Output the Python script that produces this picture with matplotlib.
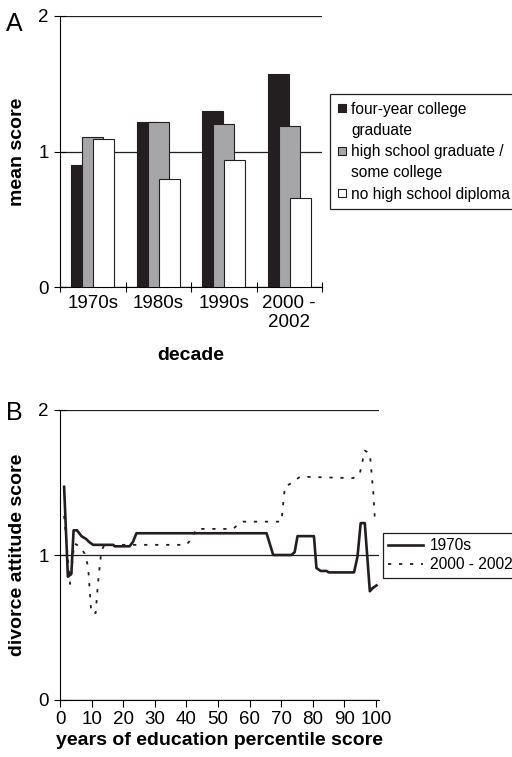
import matplotlib.pyplot as plt
from matplotlib.lines import Line2D
import numpy as np

plt.rcParams['font.family'] = ['Liberation Sans', 'DejaVu Sans']

# Panel A data
decades = ['1970s', '1980s', '1990s', '2000 -\n2002']
college = [0.90, 1.22, 1.30, 1.57]
high_school = [1.11, 1.22, 1.20, 1.19]
no_diploma = [1.09, 0.80, 0.94, 0.66]

# Panel B data
x_1970s = [1.3, 2.5, 3.6, 4.3, 5.4, 6.8, 8.3, 9.2, 10.5, 14.7, 16.8, 17.3, 22.0, 23.1,
           24.2, 65.4, 67.5, 73.3, 74.3, 75.2, 80.4, 81.2, 82.5, 84.4, 85.1, 93.1, 94.2,
           95.2, 96.5, 98.1, 98.9, 100.2]
y_1970s = [1.47, 0.85, 0.87, 1.17, 1.17, 1.13, 1.11, 1.09, 1.07, 1.07, 1.07, 1.06, 1.06, 1.09,
           1.15, 1.15, 1.00, 1.00, 1.02, 1.13, 1.13, 0.91, 0.89, 0.89, 0.88, 0.88, 0.99,
           1.22, 1.22, 0.75, 0.77, 0.79]
x_2000s = [1.3, 3.2, 4.5, 6.2, 7.8, 8.9, 9.4, 9.9, 11.3, 12.0, 13.1, 14.1, 40.0, 41.6, 43.2,
           54.8, 56.9, 58.0, 70.1, 71.2, 72.8, 76.0, 92.8, 94.9, 96.5, 98.1, 99.2, 99.7]
y_2000s = [1.27, 0.80, 1.08, 1.06, 1.01, 0.92, 0.76, 0.60, 0.60, 0.80, 1.03, 1.07, 1.07, 1.11, 1.18,
           1.18, 1.22, 1.23, 1.23, 1.47, 1.49, 1.54, 1.53, 1.56, 1.72, 1.70, 1.43, 1.24]

fig = plt.figure(figsize=(5.12, 7.57), dpi=100)

# ---- panel A ----
ax1 = fig.add_axes([60 / 512, 1 - 287 / 757, 262 / 512, 271 / 757])
pos = np.arange(len(decades)) + 0.5
w = 0.32
ax1.bar(pos - 0.17, college, w, color='#231f20', edgecolor='#231f20', lw=0.8, zorder=2)
ax1.bar(pos, high_school, w, color='#a6a6a8', edgecolor='#231f20', lw=0.8, zorder=3)
ax1.bar(pos + 0.17, no_diploma, w, color='white', edgecolor='#231f20', lw=0.8, zorder=4)
ax1.set_xlim(0, 4)
ax1.set_ylim(0, 2)
ax1.set_yticks([0, 1, 2])
ax1.set_xticks([0, 1, 2, 3, 4])
ax1.set_xticklabels([])
ax1.set_xticks(pos, minor=True)
ax1.set_xticklabels(decades, minor=True, fontsize=13.5, linespacing=1.1)
ax1.tick_params(axis='x', which='minor', length=0, pad=6)
ax1.tick_params(axis='x', which='major', direction='inout', length=7, width=0.8)
ax1.tick_params(axis='y', direction='inout', length=8, width=0.8, labelsize=13.5, pad=4)
ax1.grid(axis='y', color='#231f20', lw=0.9, zorder=1)
ax1.set_axisbelow(True)
for s in ['top', 'right']:
    ax1.spines[s].set_visible(False)
for s in ['left', 'bottom']:
    ax1.spines[s].set_linewidth(0.8)
ax1.set_ylabel('mean score', fontsize=14, fontweight='bold', labelpad=9)
ax1.set_xlabel('decade', fontsize=14, fontweight='bold', labelpad=12)
fig.text(6 / 512, 1 - 24 / 757, 'A', fontsize=18, va='center', ha='left')

# legend: marker only on the first line of each two-line label
sq = dict(ls='none', marker='s', ms=6, mec='#231f20', mew=0.8)
blank = Line2D([], [], ls='none')
handles_a = [Line2D([], [], mfc='#231f20', **sq), blank,
             Line2D([], [], mfc='#a6a6a8', **sq), blank,
             Line2D([], [], mfc='white', **sq)]
labels_a = ['four-year college', 'graduate', 'high school graduate /', 'some college',
            'no high school diploma']
leg1 = fig.legend(handles_a, labels_a, loc='upper left',
                  bbox_to_anchor=(330 / 512, 1 - 94 / 757), fontsize=11.2,
                  frameon=True, fancybox=False, edgecolor='#231f20', framealpha=1,
                  handlelength=0.5, handletextpad=0.35, borderpad=0.5,
                  labelspacing=0.4, borderaxespad=0)
leg1.get_frame().set_linewidth(0.9)

# ---- panel B ----
ax2 = fig.add_axes([60 / 512, 1 - 700 / 757, 319 / 512, 290 / 757])
ax2.plot(x_1970s, y_1970s, color='#231f20', lw=1.9, label='1970s', zorder=3)
ax2.plot(x_2000s, y_2000s, color='#231f20', lw=1.3, ls=(0, (1.8, 4.3)),
         label='2000 - 2002', zorder=2)
ax2.set_xlim(0, 101)
ax2.set_ylim(0, 2)
ax2.set_yticks([0, 1, 2])
ax2.set_xticks(np.arange(0, 101, 10))
ax2.tick_params(axis='x', direction='out', length=5, width=0.8, labelsize=13.5, pad=3)
ax2.tick_params(axis='y', direction='inout', length=8, width=0.8, labelsize=13.5, pad=4)
ax2.grid(axis='y', color='#231f20', lw=0.9, zorder=1)
for s in ['top', 'right']:
    ax2.spines[s].set_visible(False)
for s in ['left', 'bottom']:
    ax2.spines[s].set_linewidth(0.8)
ax2.set_ylabel('divorce attitude score', fontsize=14, fontweight='bold', labelpad=9)
ax2.set_xlabel('years of education percentile score', fontsize=14, fontweight='bold',
               labelpad=3)
fig.text(6 / 512, 1 - 413 / 757, 'B', fontsize=18, va='center', ha='left')

leg2 = fig.legend(loc='upper left', bbox_to_anchor=(383 / 512, 1 - 533 / 757),
                  fontsize=11.2, frameon=True, fancybox=False, edgecolor='#231f20',
                  framealpha=1, handlelength=2.2, handletextpad=0.45, borderpad=0.35,
                  labelspacing=0.25, borderaxespad=0)
leg2.get_frame().set_linewidth(0.9)

fig.savefig('out.png', dpi=100)
